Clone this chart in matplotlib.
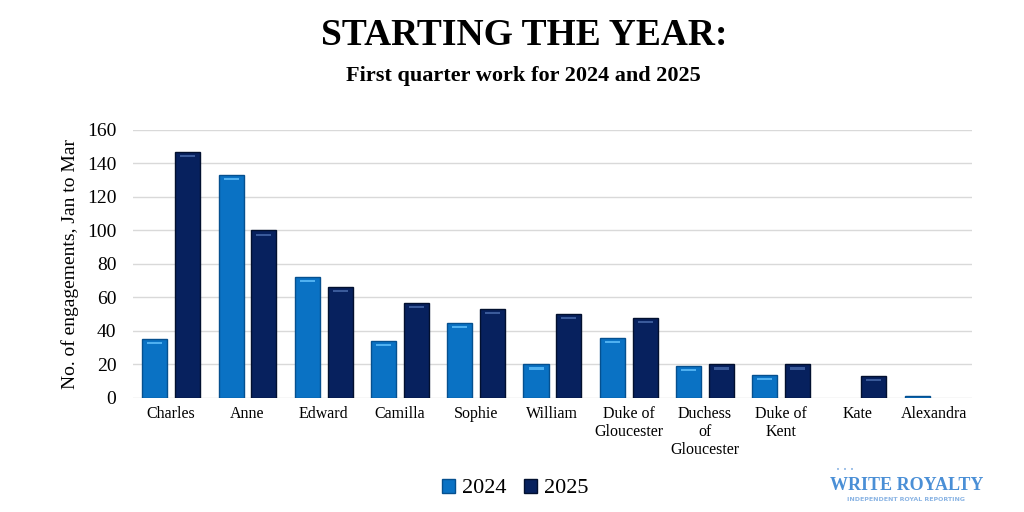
import matplotlib
matplotlib.use("Agg")
import matplotlib.pyplot as plt
import numpy as np

categories = ["Charles", "Anne", "Edward", "Camilla", "Sophie", "William",
              "Duke of\nGloucester", "Duchess\nof\nGloucester", "Duke of\nKent",
              "Kate", "Alexandra"]
values_2024 = [35, 133, 72, 34, 45, 20, 36, 19, 14, 0, 1]
values_2025 = [147, 100, 66, 57, 53, 50, 48, 20, 20, 13, 0]
series_labels = ["2024", "2025"]
yticks = [0, 20, 40, 60, 80, 100, 120, 140, 160]

c24 = "#0a72c4"
c25 = "#07215e"
serif = ["Liberation Serif", "DejaVu Serif"]

fig = plt.figure(figsize=(10.24, 5.12), dpi=100)
ax = fig.add_axes([0.130, 0.2227, 0.819, 0.5234])

x = np.arange(len(categories))
w = 0.33
off = 0.215
lw24 = [1.0 if v > 0 else 0 for v in values_2024]
lw25 = [1.0 if v > 0 else 0 for v in values_2025]
b1 = ax.bar(x - off, values_2024, w, color=c24, edgecolor="#05508f", linewidth=lw24, zorder=3, label=series_labels[0])
b2 = ax.bar(x + off, values_2025, w, color=c25, edgecolor="#02102f", linewidth=lw25, zorder=3, label=series_labels[1])
# bevel highlights near bar tops
for bars, hc in ((b1, "#4fb0f0"), (b2, "#3a5a9a")):
    for r in bars:
        h = r.get_height()
        if h >= 3:
            ax.bar(r.get_x() + r.get_width() / 2, 1.2, r.get_width() * 0.6, bottom=h - 3.0,
                   color=hc, linewidth=0, zorder=4)

ax.set_xlim(-0.5, len(categories) - 0.5)
ax.set_ylim(0, 160)
ax.set_yticks(yticks)
ax.set_yticklabels([str(t) for t in yticks], fontsize=14, family=serif)
ax.set_xticks(x)
ax.set_xticklabels(categories, fontsize=11.5, family=serif, linespacing=1.15, va="top")
ax.tick_params(axis="both", length=0)
ax.tick_params(axis="y", pad=12)
ax.tick_params(axis="x", pad=6)
ax.grid(axis="y", color="#d9d9d9", linewidth=1.0, zorder=0)
ax.set_axisbelow(True)
for s in ax.spines.values():
    s.set_visible(False)
ax.set_ylabel("No. of engagements, Jan to Mar", fontsize=14, family=serif, labelpad=6)

fig.text(0.5115, 0.930, "STARTING THE YEAR:", ha="center", va="center",
         fontsize=27, fontweight="bold", family=serif)
fig.text(0.5115, 0.851, "First quarter work for 2024 and 2025", ha="center", va="center",
         fontsize=16, fontweight="bold", family=serif)

leg = fig.legend(handles=[b1, b2], labels=series_labels, loc="center", bbox_to_anchor=(0.503, 0.046),
                 ncol=2, frameon=False, prop={"family": serif, "size": 16},
                 handlelength=0.6, handleheight=0.6, handletextpad=0.3, columnspacing=0.8)

# logo
fig.text(0.885, 0.052, "WRITE ROYALTY", ha="center", va="center", fontsize=13,
         fontweight="bold", family=serif, color="#4a8fd6")
fig.text(0.885, 0.024, "INDEPENDENT ROYAL REPORTING", ha="center", va="center", fontsize=4.5,
         fontweight="bold", family=["DejaVu Sans"], color="#8ab4e4")
for dx in (0.0, 0.007, 0.014):
    fig.text(0.818 + dx, 0.082, "•", ha="center", va="center", fontsize=5, color="#8ab4e4")

fig.savefig("out.png", dpi=100, facecolor="white")
